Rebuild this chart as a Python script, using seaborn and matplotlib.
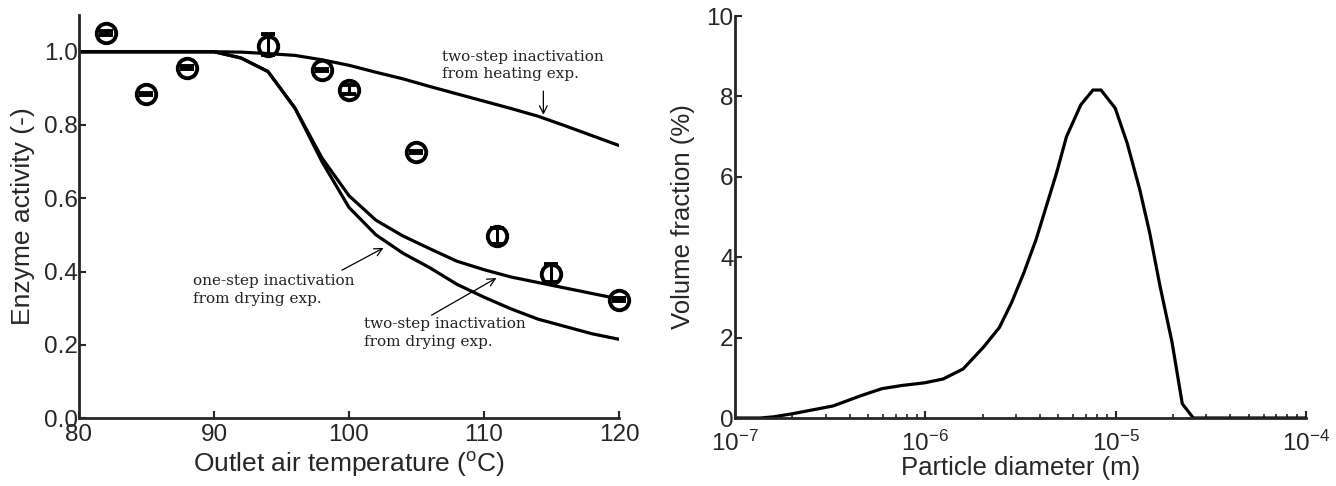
import numpy as np
import pandas as pd
import matplotlib
matplotlib.use('Agg')
import matplotlib.pyplot as plt
import seaborn as sns
from matplotlib.ticker import FormatStrFormatter, LogLocator, NullFormatter

sns.set_style("ticks")
plt.rcParams['font.family'] = ['Liberation Sans', 'DejaVu Sans']
plt.rcParams['xtick.direction'] = 'in'
plt.rcParams['ytick.direction'] = 'in'

# measured enzyme activity (left panel)
temp_exp = [82, 85, 88, 94, 98, 100, 105, 111, 115, 120]
activity_exp = [1.052, 0.885, 0.956, 1.016, 0.951, 0.896, 0.727, 0.497, 0.392, 0.323]
err_low = [0.005, 0.003, 0.004, 0.024, 0.003, 0.012, 0.003, 0.022, 0.022, 0.004]
err_high = [0.005, 0.003, 0.004, 0.032, 0.003, 0.012, 0.003, 0.022, 0.028, 0.004]

# model curves
temp_model = [80, 90, 92, 94, 96, 98, 100, 102, 104, 106, 108, 110, 112, 114, 116, 118, 120]
heating_two_step = [1.0, 1.0, 0.999, 0.995, 0.99, 0.978, 0.963, 0.944, 0.926, 0.905, 0.885,
                    0.865, 0.845, 0.824, 0.798, 0.771, 0.744]
drying_two_step = [1.0, 1.0, 0.983, 0.946, 0.846, 0.71, 0.607, 0.54, 0.497, 0.462, 0.428,
                   0.405, 0.385, 0.37, 0.355, 0.34, 0.325]
drying_one_step = [1.0, 1.0, 0.983, 0.946, 0.846, 0.70, 0.575, 0.50, 0.45, 0.41, 0.365,
                   0.33, 0.298, 0.27, 0.25, 0.23, 0.215]

# particle size distribution (right panel)
diameter = [1.0e-7, 1.36e-7, 1.6e-7, 2.01e-7, 3.28e-7, 4.62e-7, 5.92e-7, 7.55e-7, 9.9e-7,
            1.24e-6, 1.58e-6, 2.02e-6, 2.45e-6, 2.84e-6, 3.30e-6, 3.82e-6, 4.43e-6, 4.89e-6,
            5.52e-6, 6.56e-6, 7.60e-6, 8.38e-6, 9.95e-6, 1.15e-5, 1.34e-5, 1.51e-5, 1.71e-5,
            1.98e-5, 2.24e-5, 2.56e-5, 1.0e-4]
volume_fraction = [0, 0, 0.03, 0.107, 0.30, 0.56, 0.73, 0.81, 0.875, 0.97, 1.22, 1.76, 2.25,
                   2.87, 3.62, 4.44, 5.43, 6.09, 7.0, 7.79, 8.16, 8.16, 7.71, 6.84, 5.68, 4.61,
                   3.29, 1.88, 0.355, 0, 0]

fig = plt.figure(figsize=(13.36, 4.86), dpi=100)
ax1 = fig.add_axes([0.0591, 0.1399, 0.4042, 0.829])
ax2 = fig.add_axes([0.5501, 0.1399, 0.4274, 0.827])

lw = 2.3
for curve in [heating_two_step, drying_two_step, drying_one_step]:
    sns.lineplot(x=temp_model, y=curve, ax=ax1, color='black', lw=lw, estimator=None, sort=False)

ax1.errorbar(temp_exp, activity_exp, yerr=[err_low, err_high], fmt='o', mfc='none', mec='black',
             mew=2.8, ms=14, ecolor='black', elinewidth=2.2, capsize=5, capthick=2.5, zorder=5,
             clip_on=False)

# annotations
ann_font = dict(family='DejaVu Serif', fontsize=11, linespacing=1.3, color='#222222')
arrow = dict(arrowstyle='->', color='black', lw=0.9, mutation_scale=14)
ax1.text(106.9, 1.005, 'two-step inactivation\nfrom heating exp.', ha='left', va='top', **ann_font)
ax1.annotate('', xy=(114.4, 0.82), xytext=(114.4, 0.9), arrowprops=arrow)
ax1.text(88.45, 0.392, 'one-step inactivation\nfrom drying exp.', ha='left', va='top', **ann_font)
ax1.annotate('', xy=(102.74, 0.468), xytext=(99.3, 0.40), arrowprops=arrow)
ax1.text(101.1, 0.275, 'two-step inactivation\nfrom drying exp.', ha='left', va='top', **ann_font)
ax1.annotate('', xy=(111.1, 0.386), xytext=(105.94, 0.277), arrowprops=arrow)

ax1.set_xlim(80, 120)
ax1.set_ylim(0, 1.1)
ax1.set_xticks([80, 90, 100, 110, 120])
ax1.set_yticks([0, 0.2, 0.4, 0.6, 0.8, 1.0])
ax1.yaxis.set_major_formatter(FormatStrFormatter('%.1f'))
ax1.set_xlabel(r'Outlet air temperature ($\mathregular{^{o}}$C)', fontsize=19, labelpad=3)
ax1.set_ylabel('Enzyme activity (-)', fontsize=19, labelpad=6)

sns.lineplot(x=diameter, y=volume_fraction, ax=ax2, color='black', lw=lw, estimator=None, sort=False)
ax2.set_xscale('log')
ax2.set_xlim(1e-7, 1e-4)
ax2.set_ylim(0, 10)
ax2.set_yticks([0, 2, 4, 6, 8, 10])
ax2.xaxis.set_major_locator(LogLocator(base=10, numticks=10))
ax2.xaxis.set_minor_locator(LogLocator(base=10, subs=np.arange(2, 10), numticks=10))
ax2.xaxis.set_minor_formatter(NullFormatter())
ax2.set_xlabel('Particle diameter (m)', fontsize=18.5, labelpad=0)
ax2.set_ylabel('Volume fraction (%)', fontsize=18.5, labelpad=8)

for ax in [ax1, ax2]:
    sns.despine(ax=ax)
    for s in ['left', 'bottom']:
        ax.spines[s].set_linewidth(2)
    ax.tick_params(which='major', length=5, width=1.5, labelsize=17.5)
    ax.tick_params(which='minor', length=3, width=1.2)
    ax.tick_params(axis='x', pad=4)
    ax.tick_params(axis='y', pad=1)
ax2.tick_params(axis='x', which='major', pad=9)

fig.savefig('out.png', dpi=100)
